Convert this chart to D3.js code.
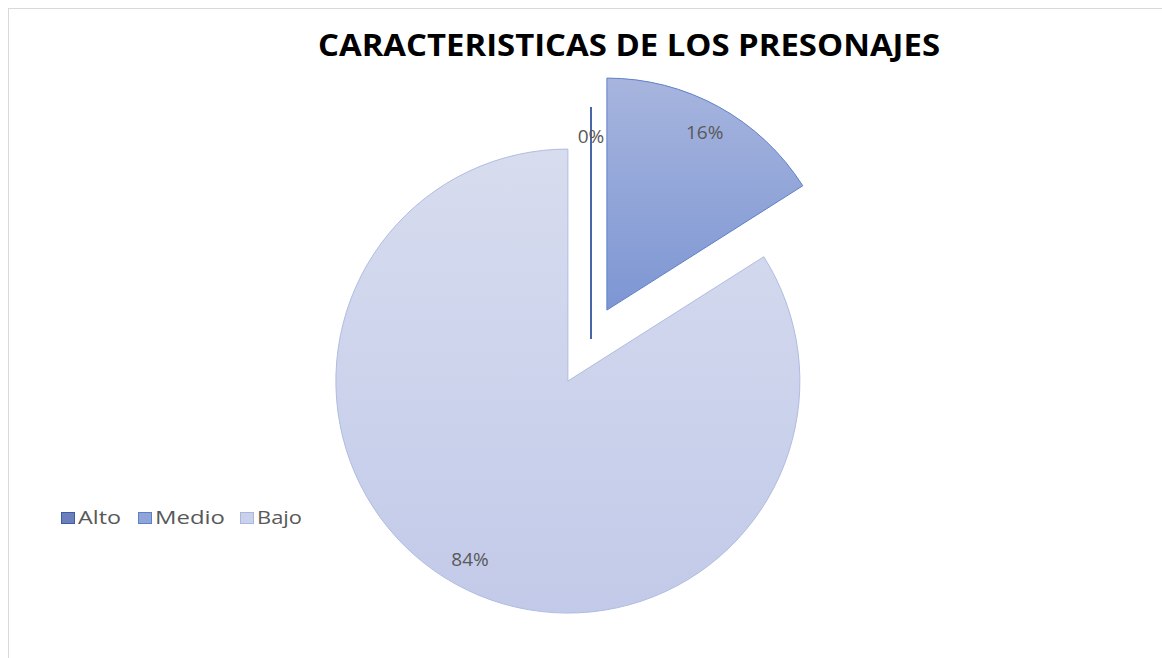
<!DOCTYPE html>
<html>
<head>
<meta charset="utf-8">
<script src="https://cdn.jsdelivr.net/npm/d3@7"></script>
<style>
  body { margin: 0; background: #fff; }
  svg { display: block; }
</style>
</head>
<body>
<div id="chart"></div>
<script>
// Data
const categories = ["Alto", "Medio", "Bajo"];
const values = [0, 16, 84];
const labels = ["0%", "16%", "84%"];
const title = "CARACTERISTICAS DE LOS PRESONAJES";

// Layout / style
const W = 1162, H = 658;
const center = { x: 591, y: 339 };
const radius = 232;
const explode = { "Alto": 0, "Medio": 33, "Bajo": 48 }; // pull-out distance
const fills = {
    "Alto": ["#5a73b3", "#3f5fa8"],
    "Medio": ["#a7b5de", "#7d96d3"],
    "Bajo": ["#d7dcee", "#c2cae9"]
};
const strokes = { "Alto": "#35569f", "Medio": "#5f80c9", "Bajo": "#b0bce1" };
const swatch = { "Alto": "#6b80bb", "Medio": "#8fa4d9", "Bajo": "#c9d1ec" };
const swatchStroke = { "Alto": "#3b5ca6", "Medio": "#5f80c9", "Bajo": "#aab7df" };
const legendX = [61, 138, 240];
const legendTextW = [43, 70, 45];

const data = categories.map((c, i) => ({ cat: c, value: values[i], label: labels[i] }));

const svg = d3.select("#chart")
    .append("svg")
    .attr("width", W)
    .attr("height", H);

// chart area border
svg.append("rect")
    .attr("x", 8.5).attr("y", 8.5)
    .attr("width", W).attr("height", H)
    .attr("fill", "#fff")
    .attr("stroke", "#d9d9d9");

// gradients
const defs = svg.append("defs");
categories.forEach(c => {
    const g = defs.append("linearGradient")
        .attr("id", "grad-" + c)
        .attr("x1", 0).attr("y1", 0).attr("x2", 0).attr("y2", 1);
    g.append("stop").attr("offset", "0%").attr("stop-color", fills[c][0]);
    g.append("stop").attr("offset", "100%").attr("stop-color", fills[c][1]);
});

// title
svg.append("text")
    .attr("x", 629)
    .attr("y", 56)
    .attr("text-anchor", "middle")
    .attr("font-family", "'Open Sans', 'Liberation Sans', sans-serif")
    .attr("font-weight", "bold")
    .attr("font-size", 30)
    .attr("textLength", 622)
    .attr("lengthAdjust", "spacingAndGlyphs")
    .attr("fill", "#000")
    .text(title);

const pie = d3.pie()
    .sort(null)
    .value(d => d.value);

const arc = d3.arc()
    .innerRadius(0)
    .outerRadius(radius);

const labelArc = d3.arc()
    .innerRadius(203)
    .outerRadius(203);

const arcs = pie(data);

function offset(d) {
    const mid = (d.startAngle + d.endAngle) / 2;
    const e = explode[d.data.cat];
    return [Math.sin(mid) * e, -Math.cos(mid) * e];
}

const slices = svg.append("g")
    .attr("transform", `translate(${center.x},${center.y})`)
    .selectAll(".slice")
    .data(arcs)
    .enter()
    .append("g")
    .attr("class", "slice")
    .attr("transform", d => `translate(${offset(d)})`);

slices.append("path")
    .attr("d", arc)
    .attr("fill", d => d.value > 0 ? `url(#grad-${d.data.cat})` : "none")
    .attr("stroke", d => strokes[d.data.cat])
    .attr("stroke-width", d => d.value > 0 ? 1 : 1.8);

slices.append("text")
    .attr("transform", d => `translate(${labelArc.centroid(d)})`)
    .attr("text-anchor", "middle")
    .attr("dy", "0.35em")
    .attr("font-family", "'Open Sans', 'Liberation Sans', sans-serif")
    .attr("font-size", 19)
    .attr("fill", "#595959")
    .text(d => d.data.label);

// legend
const legend = svg.append("g")
    .selectAll(".legend")
    .data(categories)
    .enter()
    .append("g")
    .attr("class", "legend")
    .attr("transform", (d, i) => `translate(${legendX[i]},518)`);

legend.append("rect")
    .attr("x", 0.5).attr("y", -5.5)
    .attr("width", 13).attr("height", 11)
    .attr("fill", d => swatch[d])
    .attr("stroke", d => swatchStroke[d]);

legend.append("text")
    .attr("x", 17)
    .attr("y", 0)
    .attr("dy", "0.35em")
    .attr("font-family", "'Open Sans', 'Liberation Sans', sans-serif")
    .attr("font-size", 18)
    .attr("textLength", (d, i) => legendTextW[i])
    .attr("lengthAdjust", "spacingAndGlyphs")
    .attr("fill", "#595959")
    .text(d => d);
</script>
</body>
</html>
